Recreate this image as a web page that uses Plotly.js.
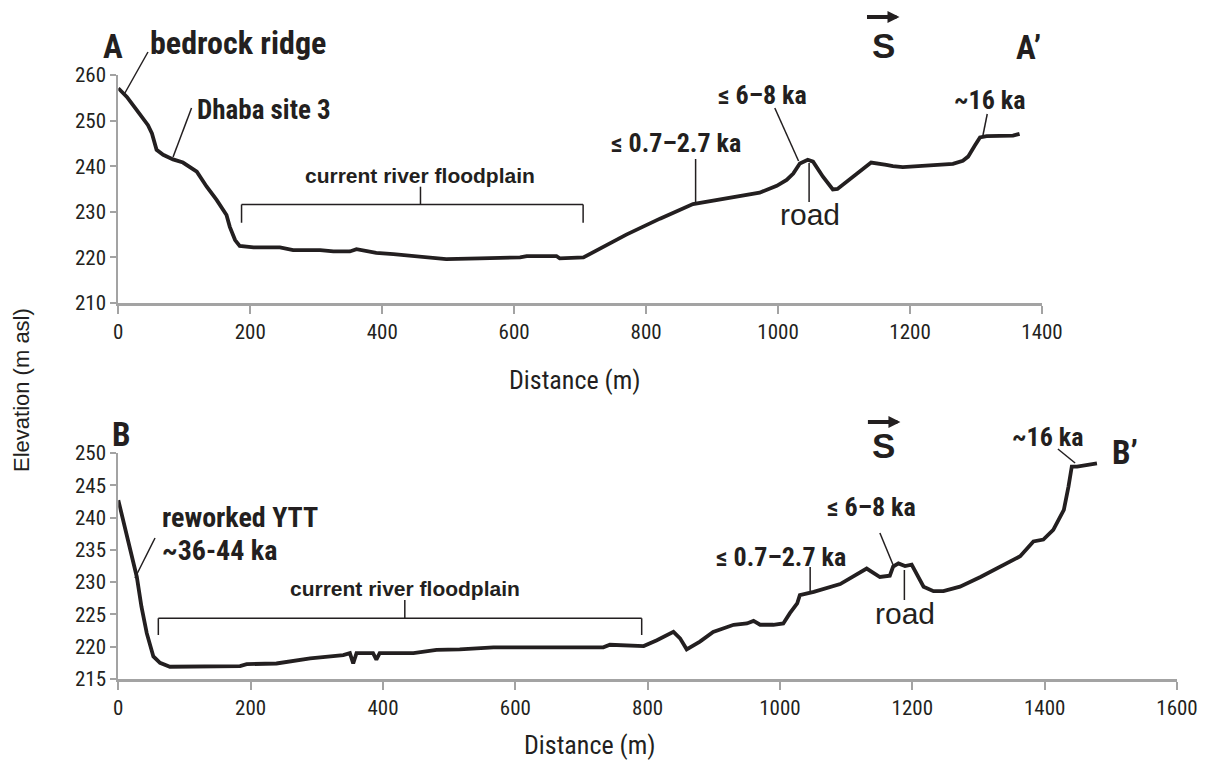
<!DOCTYPE html>
<html>
<head>
<meta charset="utf-8">
<script src="https://cdn.plot.ly/plotly-3.0.1.min.js"></script>
<style>html,body{margin:0;padding:0;background:#fff;}#chart{width:1208px;height:773px;}</style>
</head>
<body>
<div id="chart"></div>
<script>
// ---------------- DATA ----------------
const profileA_distance = [0, 13, 28, 45, 51, 58, 68, 83, 98, 119, 134, 149, 164, 169, 177, 184, 205, 245, 265, 306, 326, 351, 361, 371, 391, 417, 447, 497, 548, 609, 619, 664, 669, 705, 770, 821, 871, 922, 972, 998, 1013, 1023, 1033, 1045, 1053, 1068, 1083, 1090, 1104, 1124, 1141, 1164, 1174, 1189, 1230, 1265, 1280, 1288, 1298, 1306, 1316, 1356, 1366];
const profileA_elevation = [257.1, 255.2, 252.3, 249, 247.2, 243.6, 242.5, 241.5, 240.8, 238.8, 235.5, 232.6, 229.3, 226.7, 223.8, 222.5, 222.2, 222.2, 221.6, 221.6, 221.3, 221.3, 221.8, 221.6, 221, 220.7, 220.3, 219.6, 219.8, 220, 220.3, 220.3, 219.8, 220, 225, 228.5, 231.7, 233, 234.2, 235.7, 237, 238.4, 240.6, 241.4, 241, 237.7, 234.9, 235, 236.6, 238.8, 240.8, 240.3, 240, 239.8, 240.2, 240.5, 241.2, 242.1, 244.5, 246.3, 246.6, 246.7, 247.1];

const profileB_distance = [0, 15, 28, 35, 43, 53, 63, 78, 184, 194, 239, 290, 340, 350, 355, 360, 385, 390, 395, 446, 481, 516, 567, 668, 733, 743, 794, 814, 839, 849, 859, 879, 899, 930, 950, 960, 970, 990, 1005, 1015, 1026, 1030, 1051, 1091, 1131, 1151, 1166, 1171, 1179, 1189, 1199, 1217, 1232, 1247, 1272, 1303, 1343, 1363, 1383, 1398, 1413, 1429, 1436, 1441, 1449, 1464, 1479];
const profileB_elevation = [242.7, 236, 230.8, 226.2, 222.1, 218.5, 217.5, 216.9, 217, 217.3, 217.4, 218.2, 218.7, 219, 217.4, 219, 219, 218, 219, 219, 219.5, 219.6, 219.9, 219.9, 219.9, 220.3, 220.1, 221, 222.3, 221.3, 219.6, 220.8, 222.3, 223.4, 223.6, 224, 223.4, 223.4, 223.6, 225.2, 226.7, 228, 228.5, 229.7, 232.1, 230.8, 231, 232.4, 232.9, 232.5, 232.7, 229.3, 228.6, 228.6, 229.3, 230.8, 232.9, 234, 236.3, 236.6, 238.1, 241.2, 244.8, 247.9, 247.9, 248.1, 248.4];

const xRangeA = [0, 1400];
const yRangeA = [210, 260];
const xRangeB = [0, 1600];
const yRangeB = [215, 250];

const xTitle = 'Distance (m)';
const yTitle = 'Elevation (m asl)';
const labelsA = {start: 'A', end: 'A\u2019', ridge: 'bedrock ridge', site: 'Dhaba site 3', plain: 'current river floodplain', t1: '\u2264 0.7\u20132.7 ka', t2: '\u2264 6\u20138 ka', road: 'road', t3: '~16 ka', dir: 'S'};
const labelsB = {start: 'B', end: 'B\u2019', ytt1: 'reworked YTT', ytt2: '~36-44 ka', plain: 'current river floodplain', t1: '\u2264 0.7\u20132.7 ka', t2: '\u2264 6\u20138 ka', road: 'road', t3: '~16 ka', dir: 'S'};

// ---------------- STYLE / LAYOUT ----------------
const W = 1208, H = 773;
const py = v => 1 - v / H;         // pixel row -> paper fraction
const TXT = '#231f20';
const AX = '#a3a3a3';
const REG = "'Liberation Sans', Arial, Helvetica, sans-serif";

// pick a condensed face if one is installed, otherwise fall back to Liberation Sans
function hasFont(name) {
  const c = document.createElement('canvas').getContext('2d');
  const s = 'abcdefghijklmnopqrstuvwxyzABCDEFGHIJKLM0123456789';
  for (const base of ['monospace', 'serif']) {
    c.font = '40px ' + base; const w0 = c.measureText(s).width;
    c.font = '40px "' + name + '", ' + base; const w1 = c.measureText(s).width;
    if (Math.abs(w0 - w1) > 0.5) return true;
  }
  return false;
}
const narrowFace = ['Liberation Sans Narrow', 'Arial Narrow', 'Roboto Condensed', 'Nimbus Sans Narrow', 'Open Sans Condensed'].find(hasFont);
const NARROW = narrowFace ? "'" + narrowFace + "', 'Liberation Sans', sans-serif" : REG;
const SZ = narrowFace
  ? {letter: 33, ridge: 32, site: 27, age: 26, ytt: 28, tick: 21, dist: 26}
  : {letter: 29, ridge: 27, site: 23, age: 23, ytt: 23, tick: 17, dist: 22};

const traces = [
  {x: profileA_distance, y: profileA_elevation, xaxis: 'x', yaxis: 'y', mode: 'lines', line: {color: TXT, width: 3.8}, hoverinfo: 'skip'},
  {x: profileB_distance, y: profileB_elevation, xaxis: 'x2', yaxis: 'y2', mode: 'lines', line: {color: TXT, width: 3.8}, hoverinfo: 'skip'}
];

function axisStyle(extra) {
  return Object.assign({
    showline: true, linecolor: AX, ticks: 'outside', tickcolor: AX, tickwidth: 2,
    showgrid: false, zeroline: false, fixedrange: true,
    tickfont: {family: NARROW, size: SZ.tick, color: TXT}
  }, extra);
}

const boldN = s => ({family: NARROW, size: s, color: TXT, weight: 'bold'});
function txt(xref, x, yPix, text, font, xanchor) {
  return {xref: xref, yref: 'paper', x: x, y: py(yPix), text: text, showarrow: false,
          font: font, xanchor: xanchor || 'center', yanchor: 'middle'};
}
function seg(xref, x0, y0Pix, x1, y1Pix, w) {
  return {type: 'line', xref: xref, yref: 'paper', x0: x0, y0: py(y0Pix), x1: x1, y1: py(y1Pix),
          line: {color: TXT, width: w || 1.5}};
}
function arrow(xref, x, yPix) {
  return {xref: xref, yref: 'paper', x: x, y: py(yPix), ax: -34, ay: 0, text: '', showarrow: true,
          arrowhead: 2, arrowsize: 0.6, arrowwidth: 4, arrowcolor: TXT, standoff: 0};
}

const annotations = [
  // panel A
  {xref: 'paper', yref: 'paper', x: 113 / W, y: py(46), text: labelsA.start, showarrow: false, font: boldN(SZ.letter), xanchor: 'center', yanchor: 'middle'},
  txt('x', 45, 43, labelsA.ridge, boldN(SZ.ridge), 'left'),
  txt('x', 116, 110, labelsA.site, boldN(SZ.site), 'left'),
  txt('x', 458, 175, labelsA.plain, {family: REG, size: 21, color: TXT, weight: 'bold'}),
  txt('x', 845, 143, labelsA.t1, boldN(SZ.age)),
  txt('x', 977, 95, labelsA.t2, boldN(SZ.age)),
  txt('x', 1049, 215, labelsA.road, {family: REG, size: 30, color: TXT}),
  txt('x', 1321, 100, labelsA.t3, boldN(SZ.age)),
  txt('x', 1160, 45, labelsA.dir, {family: REG, size: 35, color: TXT, weight: 'bold'}),
  arrow('x', 1184, 17),
  txt('x', 1379, 47, labelsA.end, boldN(SZ.letter)),
  // panel B
  {xref: 'paper', yref: 'paper', x: 121 / W, y: py(434), text: labelsB.start, showarrow: false, font: boldN(SZ.letter), xanchor: 'center', yanchor: 'middle'},
  txt('x2', 63, 517, labelsB.ytt1, boldN(SZ.ytt), 'left'),
  txt('x2', 63, 550, labelsB.ytt2, boldN(SZ.ytt), 'left'),
  txt('x2', 433, 588, labelsB.plain, {family: REG, size: 21, color: TXT, weight: 'bold'}),
  txt('x2', 1002, 557, labelsB.t1, boldN(SZ.age)),
  txt('x2', 1139, 507, labelsB.t2, boldN(SZ.age)),
  txt('x2', 1189, 613, labelsB.road, {family: REG, size: 30, color: TXT}),
  txt('x2', 1405, 437, labelsB.t3, boldN(SZ.age)),
  txt('x2', 1156, 445, labelsB.dir, {family: REG, size: 35, color: TXT, weight: 'bold'}),
  arrow('x2', 1182, 422),
  txt('x2', 1522, 452, labelsB.end, boldN(SZ.letter)),
  // axis titles
  {xref: 'paper', yref: 'paper', x: 575 / W, y: py(380), text: xTitle, showarrow: false, xanchor: 'center', yanchor: 'middle', font: {family: NARROW, size: SZ.dist, color: TXT}},
  {xref: 'paper', yref: 'paper', x: 590 / W, y: py(745), text: xTitle, showarrow: false, xanchor: 'center', yanchor: 'middle', font: {family: NARROW, size: SZ.dist, color: TXT}},
  {xref: 'paper', yref: 'paper', x: 22 / W, y: py(390), text: yTitle, showarrow: false, textangle: -90, xanchor: 'center', yanchor: 'middle', font: {family: REG, size: 22, color: TXT}}
];

const shapes = [
  // panel A pointers & bracket
  seg('x', 10, 93, 45, 52),
  seg('x', 83, 157, 111, 108),
  seg('x', 186.8, 204.5, 704.5, 204.5),
  seg('x', 186.8, 204.5, 186.8, 222.7),
  seg('x', 704.5, 204.5, 704.5, 222.7),
  seg('x', 458, 204.5, 458, 186.7),
  seg('x', 875, 159, 875, 203),
  seg('x', 995, 108, 1031, 161),
  seg('x', 1047, 163, 1047, 202),
  seg('x', 1317, 114, 1310, 137),
  // panel B pointers & bracket
  seg('x2', 25.2, 578, 55.5, 538),
  seg('x2', 60.5, 618.3, 791, 618.3),
  seg('x2', 60.5, 618.3, 60.5, 635),
  seg('x2', 791, 618.3, 791, 635),
  seg('x2', 433, 618.3, 433, 600),
  seg('x2', 1045.6, 567, 1045.6, 593),
  seg('x2', 1151, 533, 1171, 565),
  seg('x2', 1188, 570, 1188, 600),
  seg('x2', 1420, 449, 1446, 463)
];

const layout = {
  width: W, height: H, margin: {l: 0, r: 0, t: 0, b: 0},
  paper_bgcolor: '#ffffff', plot_bgcolor: '#ffffff', showlegend: false,
  xaxis: axisStyle({domain: [118.3 / W, 1042 / W], range: xRangeA, dtick: 200, tick0: 0, linewidth: 3, ticklen: 8, anchor: 'y'}),
  yaxis: axisStyle({domain: [py(303), py(75)], range: yRangeA, dtick: 10, tick0: 210, linewidth: 2, ticklen: 6, anchor: 'x'}),
  xaxis2: axisStyle({domain: [118.3 / W, 1177 / W], range: xRangeB, dtick: 200, tick0: 0, linewidth: 3, ticklen: 8, anchor: 'y2'}),
  yaxis2: axisStyle({domain: [py(679), py(453)], range: yRangeB, dtick: 5, tick0: 215, linewidth: 2, ticklen: 6, anchor: 'x2'}),
  annotations: annotations,
  shapes: shapes
};

Plotly.newPlot('chart', traces, layout, {displayModeBar: false, staticPlot: true});
</script>
</body>
</html>
